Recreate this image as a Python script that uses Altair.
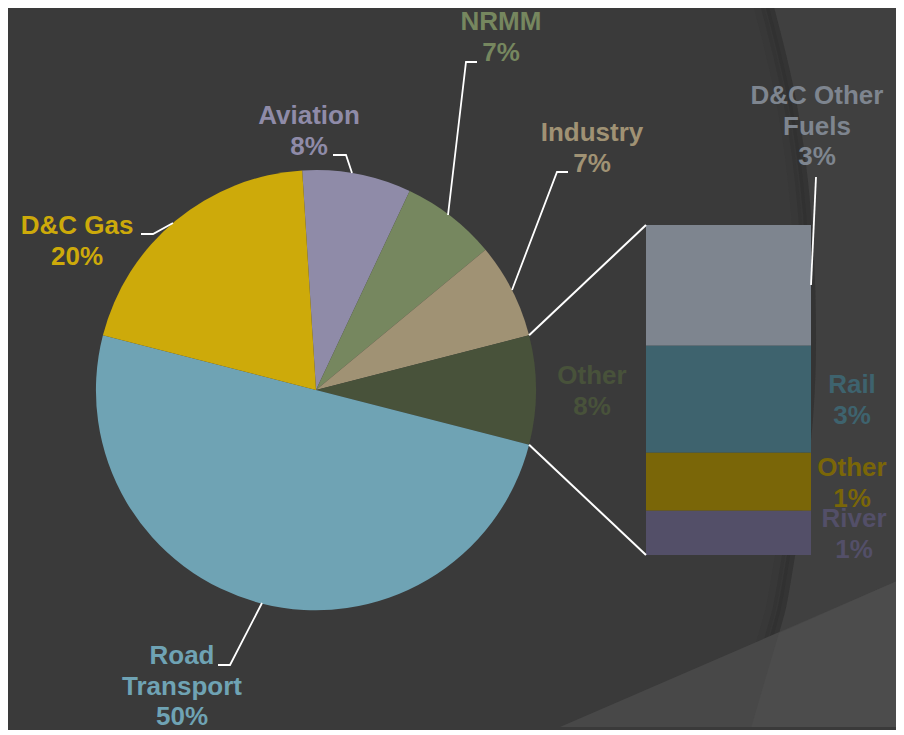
import math
import altair as alt
import pandas as pd

# ---------------- data ----------------
pie_labels = ["Aviation", "NRMM", "Industry", "Other", "Road Transport", "D&C Gas"]
pie_values = [8, 7, 7, 8, 50, 20]
pie_colors = ["#8f8ba8", "#76875f", "#a09274", "#48523a", "#6fa3b4", "#cdaa0a"]
pie_text = ["Aviation\n8%", "NRMM\n7%", "Industry\n7%", "Other\n8%",
            "Road\nTransport\n50%", "D&C Gas\n20%"]

bar_labels = ["D&C Other Fuels", "Rail", "Other", "River"]
bar_values = [2.93, 2.59, 1.41, 1.07]
bar_colors = ["#7e858f", "#3e636e", "#7a6608", "#534f68"]
bar_text = ["D&C Other\nFuels\n3%", "Rail\n3%", "Other\n1%", "River\n1%"]

# ---------------- layout (reference pixel coordinates) ----------------
OFF = 8
W, H = 904 - 2 * OFF, 735 - 2 * OFF
CX, CY, R = 316, 390, 220
START_DEG = -3.6
BAR_X0, BAR_X1, BAR_TOP, BAR_BOT = 646, 811, 225, 555
FONT = "Liberation Sans"

# (x centre, y of first line)
pie_label_pos = [(309, 116), (501, 22), (592, 133), (592, 376), (182, 656), (77, 226)]
bar_label_pos = [(817, 96), (852, 385), (852, 468), (854, 519)]

leaders = [
    [(333, 155), (346, 155), (352, 173)],
    [(477, 62), (466, 62), (448, 215)],
    [(568, 172), (557, 172), (512, 290)],
    [(816, 177), (811, 285)],
    [(141, 234), (153, 234), (173, 223)],
    [(218, 665), (230, 665), (262, 603)],
]

# background decoration shapes
curve_y = [0, 100, 213, 330, 450, 580, 633, 735]
curve_x = [772, 796, 811, 816, 810, 791, 779, 749]
diag_x = [530, 904]
diag_y = [740, 578]

xs = alt.Scale(domain=[OFF, 904 - OFF], nice=False, zero=False)
def ys():
    return alt.Scale(domain=[OFF, 735 - OFF], reverse=True, nice=False, zero=False)

# ---------------- background ----------------
right_df = pd.DataFrame({"y": curve_y, "x": curve_x, "x2": [910] * len(curve_y)})
right_bg = alt.Chart(right_df).mark_area(orient="horizontal", interpolate="natural",
                                         color="#404040", clip=True).encode(
    y=alt.Y("y:Q", scale=ys(), axis=None),
    x=alt.X("x:Q", scale=xs, axis=None),
    x2="x2:Q",
)
shadows = []
for dx, w, op in [(4, 8, 0.25), (9, 8, 0.15), (15, 10, 0.08)]:
    shadows.append(
        alt.Chart(right_df).mark_line(interpolate="natural", color="#222222",
                                      strokeWidth=w, opacity=op, clip=True).encode(
            y=alt.Y("y:Q", scale=ys(), axis=None),
            x=alt.X("xs:Q", scale=xs, axis=None),
            order="y:Q",
        ).transform_calculate(xs=f"datum.x - {dx}")
    )

low_df = pd.DataFrame({"x": diag_x, "y": diag_y, "y2": [740, 740]})
low_bg = alt.Chart(low_df).mark_area(color="#484848", clip=True).encode(
    x=alt.X("x:Q", scale=xs, axis=None),
    y=alt.Y("y:Q", scale=ys(), axis=None),
    y2="y2:Q",
)
lowr_df = pd.DataFrame({"y": [578, 633, 680, 735], "x": [904, 779, 765, 749], "x2": [910] * 4})
lowr_bg = alt.Chart(lowr_df).mark_area(orient="horizontal", color="#4c4c4c", clip=True).encode(
    y=alt.Y("y:Q", scale=ys(), axis=None),
    x=alt.X("x:Q", scale=xs, axis=None),
    x2="x2:Q",
)

# ---------------- pie ----------------
pie_df = pd.DataFrame({"label": pie_labels, "value": pie_values,
                       "color": pie_colors, "idx": list(range(len(pie_labels)))})
s = math.radians(START_DEG)
pie = alt.Chart(pie_df).mark_arc(radius=R).encode(
    theta=alt.Theta("value:Q", stack=True,
                    scale=alt.Scale(range=[2 * math.pi + s, 4 * math.pi + s])),
    order=alt.Order("idx:Q"),
    color=alt.Color("color:N", scale=None),
    x=alt.value(CX - OFF),
    y=alt.value(CY - OFF),
)

# ---------------- bar (stacked column of the "Other" slice) ----------------
bar_df = pd.DataFrame({"label": bar_labels, "value": bar_values, "color": bar_colors,
                       "stack_order": list(range(len(bar_labels)))[::-1]})
total_other = sum(bar_values)
bar = alt.Chart(bar_df).transform_stack(
    stack="value", groupby=[], as_=["v0", "v1"],
    sort=[alt.SortField("stack_order", order="ascending")],
).mark_rect().encode(
    y=alt.Y("v1:Q",
            scale=alt.Scale(domain=[0, total_other], range=[BAR_BOT - OFF, BAR_TOP - OFF],
                            nice=False, zero=True), axis=None),
    y2="v0:Q",
    color=alt.Color("color:N", scale=None),
    x=alt.value(BAR_X0 - OFF),
    x2=alt.value(BAR_X1 - OFF),
)

# ---------------- connectors pie -> bar ----------------
total = sum(pie_values)
before_other = sum(pie_values[:pie_labels.index("Other")])
a1 = START_DEG + before_other / total * 360
a2 = a1 + pie_values[pie_labels.index("Other")] / total * 360
def pt(a):
    r = math.radians(a)
    return CX + R * math.sin(r), CY - R * math.cos(r)
p1, p2 = pt(a1), pt(a2)
conn_rows = [
    {"g": 0, "k": 0, "x": p1[0], "y": p1[1]}, {"g": 0, "k": 1, "x": BAR_X0, "y": BAR_TOP},
    {"g": 1, "k": 0, "x": p2[0], "y": p2[1]}, {"g": 1, "k": 1, "x": BAR_X0, "y": BAR_BOT},
]
conn = alt.Chart(pd.DataFrame(conn_rows)).mark_line(color="white", strokeWidth=2).encode(
    x=alt.X("x:Q", scale=xs, axis=None),
    y=alt.Y("y:Q", scale=ys(), axis=None),
    detail="g:N",
    order="k:Q",
)

# ---------------- leader lines ----------------
lead_rows = []
for g, pts in enumerate(leaders):
    for k, (x, y) in enumerate(pts):
        lead_rows.append({"g": g, "k": k, "x": x, "y": y})
lead = alt.Chart(pd.DataFrame(lead_rows)).mark_line(color="white", strokeWidth=1.8).encode(
    x=alt.X("x:Q", scale=xs, axis=None),
    y=alt.Y("y:Q", scale=ys(), axis=None),
    detail="g:N",
    order="k:Q",
)

# ---------------- labels ----------------
lab_rows = []
for t, c, (x, y) in zip(pie_text, pie_colors, pie_label_pos):
    lab_rows.append({"t": t, "c": c, "x": x, "y": y})
for t, c, (x, y) in zip(bar_text, bar_colors, bar_label_pos):
    lab_rows.append({"t": t, "c": c, "x": x, "y": y})
labels = alt.Chart(pd.DataFrame(lab_rows)).mark_text(
    font=FONT, fontSize=26, fontWeight="bold", lineBreak="\n", lineHeight=30.5,
    align="center", baseline="middle",
).encode(
    x=alt.X("x:Q", scale=xs, axis=None),
    y=alt.Y("y:Q", scale=ys(), axis=None),
    text="t:N",
    color=alt.Color("c:N", scale=None),
)

chart = alt.layer(right_bg, *shadows, low_bg, lowr_bg, pie, bar, conn, lead, labels).resolve_scale(
    y="independent"
).properties(
    width=W, height=H, background="#3a3a3a", padding=0,
).configure_view(stroke=None)

chart.save("out.html", embed_options={"renderer": "svg", "actions": False})
